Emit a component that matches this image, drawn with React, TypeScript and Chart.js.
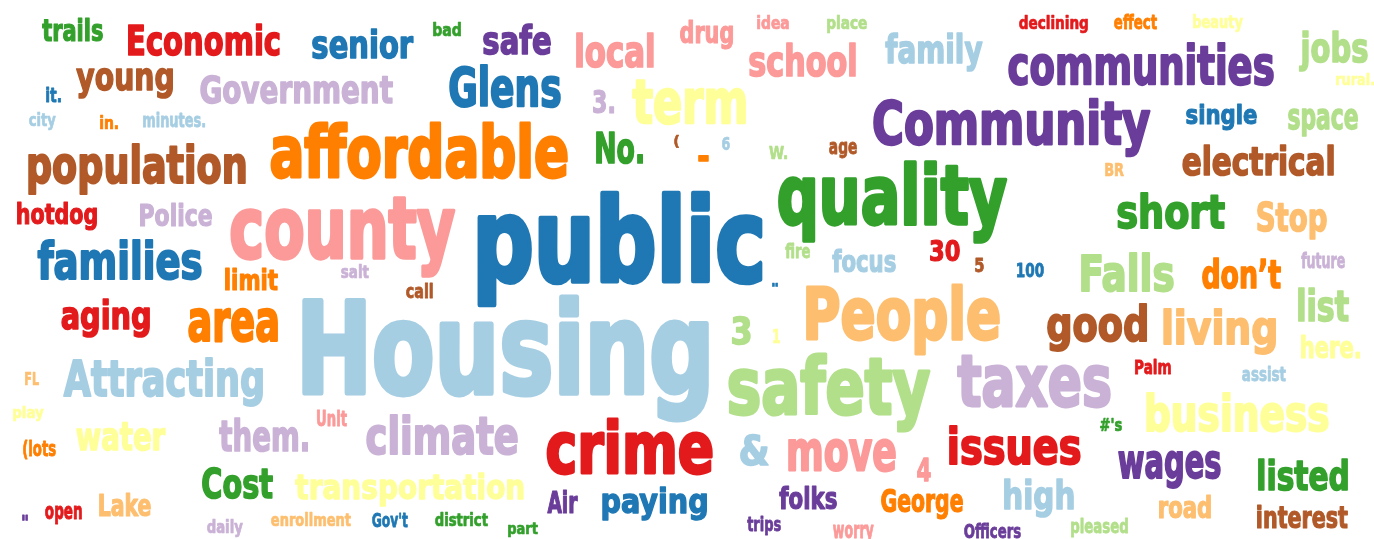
import React, { useEffect, useRef } from "react";
import { Chart, registerables } from "chart.js";

Chart.register(...registerables);

// Word list (word cloud terms)
const words = [
  "trails", "Economic", "senior", "bad", "young", "Government", "it.", "safe", "local", "drug",
  "idea", "place", "Glens", "school", "family", "term", "3.", "Community", "No.", "(",
  "-", "6", "W.", "age", "declining", "effect", "beauty", "communities", "jobs", "rural.",
  "single", "space", "electrical", "BR", "population", "affordable", "city", "in.", "minutes.", "county",
  "public", "quality", "hotdog", "Police", "families", "limit", "salt", "call", "aging", "area",
  "Housing", "fire", "focus", "\"", "3", "1", "People", "short", "Stop", "30",
  "5", "100", "Falls", "don\u2019t", "future", "list", "good", "living", "here.", "Attracting",
  "FL", "play", "water", "them.", "Unit", "climate", "(lots", "Cost", "transportation", "Lake",
  "open", "\"", "daily", "enrollment", "Gov't", "district", "part", "safety", "crime", "&",
  "move", "4", "Air", "paying", "folks", "George", "trips", "worry", "taxes", "Palm",
  "assist", "business", "#'s", "issues", "wages", "listed", "high", "road", "interest", "Officers",
  "pleased",
];

// Colour group of each word
const colorKeys = [
  "g", "r", "b", "g", "br", "li", "b", "pu", "pk", "pk",
  "pk", "lg", "b", "pk", "lb", "y", "li", "pu", "g", "br",
  "o", "lb", "lg", "br", "r", "o", "y", "pu", "lg", "y",
  "b", "lg", "br", "lo", "br", "o", "lb", "o", "lb", "pk",
  "b", "g", "r", "li", "b", "o", "li", "br", "r", "o",
  "lb", "lg", "lb", "b", "lg", "y", "lo", "g", "lo", "r",
  "br", "b", "lg", "o", "li", "lg", "br", "lo", "y", "lb",
  "lo", "y", "y", "li", "pk", "li", "o", "g", "y", "lo",
  "r", "pu", "li", "lo", "b", "g", "g", "lg", "r", "lb",
  "pk", "pk", "pu", "b", "pu", "o", "pu", "pk", "li", "r",
  "lb", "y", "g", "r", "pu", "g", "lb", "lo", "br", "pu",
  "lg",
];

// Layout of each word (cloud coordinates)
const xLeft = [
  42, 128, 312, 433, 76, 200, 46, 483, 576, 680,
  757, 827, 449, 749, 885, 632, 593, 873, 596, 674,
  698, 722, 769, 829, 1019, 1114, 1193, 1008, 1299, 1336,
  1186, 1288, 1182, 1105, 28, 270, 29, 100, 143, 230,
  477, 778, 17, 140, 37, 225, 341, 406, 61, 188,
  302, 785, 832, 772, 732, 773, 806, 1117, 1257, 930,
  975, 1017, 1081, 1202, 1301, 1298, 1047, 1163, 1301, 63,
  25, 13, 76, 219, 317, 366, 23, 202, 295, 99,
  45, 22, 207, 271, 372, 435, 508, 728, 546, 740,
  788, 917, 547, 602, 779, 881, 747, 833, 957, 1135,
  1242, 1146, 1100, 949, 1118, 1258, 1004, 1159, 1257, 964,
  1071,
];
const xRight = [
  102, 279, 413, 460, 172, 392, 60, 550, 653, 732,
  788, 866, 560, 855, 982, 745, 613, 1150, 642, 678,
  708, 729, 786, 856, 1087, 1156, 1242, 1273, 1367, 1373,
  1256, 1357, 1333, 1123, 245, 567, 55, 117, 204, 455,
  762, 1007, 96, 211, 201, 277, 368, 432, 149, 277,
  708, 809, 895, 777, 750, 779, 999, 1224, 1326, 959,
  983, 1043, 1173, 1280, 1344, 1348, 1146, 1275, 1359, 262,
  38, 43, 165, 307, 346, 517, 55, 272, 523, 150,
  81, 27, 242, 350, 407, 487, 537, 930, 712, 768,
  895, 930, 577, 706, 836, 962, 780, 873, 1110, 1170,
  1285, 1328, 1121, 1080, 1220, 1347, 1073, 1210, 1347, 1020,
  1127,
];
const yTop = [
  18, 23, 29, 22, 68, 74, 87, 23, 33, 20,
  15, 15, 65, 43, 33, 80, 89, 98, 131, 134,
  155, 136, 146, 142, 15, 14, 14, 43, 30, 72,
  103, 108, 144, 163, 143, 122, 112, 115, 112, 196,
  191, 160, 202, 203, 239, 268, 264, 283, 298, 307,
  295, 243, 248, 282, 315, 329, 283, 192, 201, 239,
  257, 262, 252, 257, 252, 288, 303, 308, 334, 357,
  372, 405, 422, 418, 410, 414, 440, 466, 472, 493,
  505, 515, 519, 512, 512, 512, 523, 353, 417, 433,
  437, 457, 490, 487, 485, 488, 516, 524, 355, 359,
  366, 392, 417, 425, 450, 458, 478, 495, 505, 523,
  518,
];
const yBase = [
  40, 54, 57, 35, 89, 102, 101, 53, 66, 42,
  28, 28, 105, 75, 62, 122, 112, 143, 162, 147,
  161, 149, 158, 153, 28, 28, 27, 83, 61, 84,
  123, 128, 174, 175, 182, 176, 125, 128, 126, 257,
  280, 223, 223, 225, 278, 289, 277, 297, 328, 340,
  392, 257, 271, 285, 343, 342, 338, 227, 230, 260,
  271, 276, 290, 287, 267, 320, 340, 343, 357, 395,
  384, 417, 449, 450, 425, 453, 455, 497, 498, 515,
  518, 520, 532, 525, 526, 525, 533, 413, 472, 464,
  469, 480, 512, 512, 508, 511, 530, 537, 405, 373,
  380, 430, 430, 463, 477, 489, 508, 517, 527, 537,
  532,
];

const PALETTE: Record<string, string> = {
  lb: "#a6cee3", b: "#1f78b4", lg: "#b2df8a", g: "#33a02c",
  pk: "#fb9a99", r: "#e31a1c", lo: "#fdbf6f", o: "#ff7f00",
  li: "#cab2d6", pu: "#6a3d9a", y: "#ffff99", br: "#b15928",
};

const INK_FIT = new Set(["(", "-", "\""]);
const FONT = '"DejaVu Sans Condensed", "DejaVu Sans", sans-serif';
const EMBOLDEN = 4; // extra stroke (in 100px font units) to mimic a heavy display face

const wordPlugin = {
  id: "wordcloud",
  afterDatasetsDraw(chart: any) {
    const ctx = chart.ctx as CanvasRenderingContext2D;
    const xs = chart.scales.x;
    const ys = chart.scales.y;
    ctx.save();
    ctx.textBaseline = "alphabetic";
    ctx.textAlign = "left";
    ctx.font = `bold 100px ${FONT}`;
    ctx.lineJoin = "round";
    words.forEach((w, i) => {
      const L = xs.getPixelForValue(xLeft[i]);
      const R = xs.getPixelForValue(xRight[i] + 1);
      const T = ys.getPixelForValue(yTop[i]);
      const B = ys.getPixelForValue(yBase[i] + 1);
      const m = ctx.measureText(w);
      const lw = EMBOLDEN;
      const inkW = m.actualBoundingBoxLeft + m.actualBoundingBoxRight + lw;
      const asc = m.actualBoundingBoxAscent + lw / 2;
      const sx = (R - L) / inkW;
      let sy: number;
      let baseY: number;
      if (INK_FIT.has(w)) {
        const inkH = m.actualBoundingBoxAscent + m.actualBoundingBoxDescent + lw;
        sy = (B - T) / inkH;
        baseY = T + asc * sy;
      } else {
        sy = (B - T) / asc;
        baseY = B;
      }
      const col = PALETTE[colorKeys[i]];
      ctx.save();
      ctx.translate(L, baseY);
      ctx.scale(sx, sy);
      ctx.fillStyle = col;
      ctx.strokeStyle = col;
      ctx.lineWidth = lw;
      const ox = m.actualBoundingBoxLeft + lw / 2;
      ctx.fillText(w, ox, 0);
      ctx.strokeText(w, ox, 0);
      ctx.restore();
    });
    ctx.restore();
  },
};

export default function App() {
  const ref = useRef<HTMLCanvasElement | null>(null);
  useEffect(() => {
    document.body.style.margin = "0";
    document.body.style.overflow = "hidden";
    if (!ref.current) return;
    const chart = new Chart(ref.current, {
      type: "scatter",
      data: {
        datasets: [
          {
            data: words.map((_, i) => ({ x: (xLeft[i] + xRight[i]) / 2, y: yBase[i] })),
            pointRadius: 0,
            pointHoverRadius: 0,
          },
        ],
      },
      options: {
        animation: false,
        responsive: false,
        events: [],
        layout: { padding: 0 },
        plugins: { legend: { display: false }, tooltip: { enabled: false } },
        scales: {
          x: { type: "linear", min: 0, max: 1374, display: false },
          y: { type: "linear", min: 0, max: 539, reverse: true, display: false },
        },
      },
      plugins: [wordPlugin],
    });
    return () => chart.destroy();
  }, []);
  return (
    <div style={{ width: 1374, height: 539, background: "#fff" }}>
      <canvas ref={ref} width={1374} height={539} />
    </div>
  );
}
